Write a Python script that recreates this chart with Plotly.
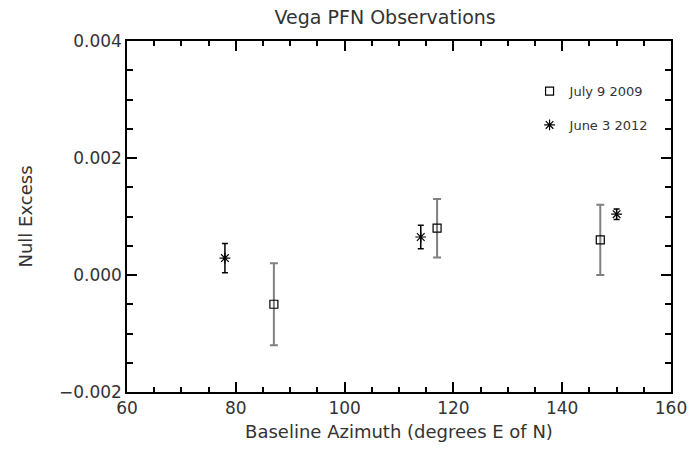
import plotly.graph_objects as go

# July 9 2009 (squares)
az_2009 = [87, 117, 147]
null_2009 = [-0.0005, 0.0008, 0.0006]
err_2009 = [0.0007, 0.0005, 0.0006]

# June 3 2012 (asterisks)
az_2012 = [78, 114, 150]
null_2012 = [0.00029, 0.00065, 0.00104]
err_2012 = [0.00025, 0.0002, 0.00009]

# axis ticks
x_major = [60, 80, 100, 120, 140, 160]
y_major = [-0.002, 0.0, 0.002, 0.004]
x_range = [60, 160]
y_range = [-0.002, 0.004]

FONT = "DejaVu Sans"
TXT = "#333"

fig = go.Figure()
fig.add_trace(go.Scatter(
    x=az_2009, y=null_2009, mode="markers", name="July 9 2009",
    legendgroup="a",
    marker=dict(symbol="square-open", size=8, color="black", line=dict(width=1.2, color="black")),
    error_y=dict(type="data", array=err_2009, visible=True, color="#808080", thickness=2, width=4),
))
fig.add_trace(go.Scatter(
    x=az_2012, y=null_2012, mode="markers", name="June 3 2012",
    legendgroup="b",
    marker=dict(symbol="asterisk-open", size=9, color="black", line=dict(width=1.2, color="black")),
    error_y=dict(type="data", array=err_2012, visible=True, color="black", thickness=1.5, width=3),
))

axis_common = dict(
    showgrid=False, zeroline=False, showline=True, linecolor="black", linewidth=1.5,
    mirror="allticks", ticks="inside", ticklen=10, tickwidth=1.5, tickcolor="black",
    tickfont=dict(family=FONT, size=17, color=TXT),
)

fig.update_layout(
    xaxis=dict(
        range=x_range, tickmode="array", tickvals=x_major,
        minor=dict(dtick=5, tick0=60, ticks="inside", ticklen=5, tickcolor="black", tickwidth=1.5),
        title=dict(text="Baseline Azimuth (degrees E of N)", font=dict(family=FONT, size=18, color=TXT), standoff=8),
        **axis_common,
    ),
    yaxis=dict(
        range=y_range, tickmode="array", tickvals=y_major, tickformat=".3f", ticksuffix=" ",
        minor=dict(dtick=0.0005, tick0=0, ticks="inside", ticklen=6, tickcolor="black", tickwidth=1.5),
        title=dict(text="Null Excess", font=dict(family=FONT, size=18, color=TXT), standoff=22),
        **axis_common,
    ),
)

fig.update_layout(
    template="none",
    width=694, height=461,
    margin=dict(l=127, r=23, t=41, b=69),
    plot_bgcolor="white", paper_bgcolor="white",
    title=dict(text="Vega PFN Observations", font=dict(family=FONT, size=19, color=TXT),
               x=0.555, xref="container", xanchor="center", y=1 - 17 / 461, yref="container", yanchor="middle"),
    legend=dict(x=0.74, y=0.90, xanchor="left", yanchor="top", bgcolor="rgba(0,0,0,0)",
                font=dict(family=FONT, size=13, color=TXT), tracegroupgap=14, itemwidth=30,
                traceorder="grouped"),
    showlegend=True,
)

fig.write_html("out.html")
